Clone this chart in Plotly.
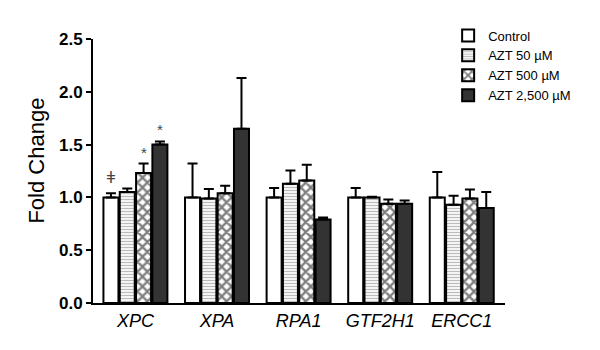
import plotly.graph_objects as go

genes = ["XPC", "XPA", "RPA1", "GTF2H1", "ERCC1"]
series_names = ["Control", "AZT 50 µM", "AZT 500 µM", "AZT 2,500 µM"]

control = [1.00, 1.00, 1.00, 1.00, 1.00]
azt50 = [1.05, 0.99, 1.13, 1.00, 0.93]
azt500 = [1.23, 1.04, 1.16, 0.94, 0.99]
azt2500 = [1.50, 1.65, 0.79, 0.94, 0.90]

control_err = [0.04, 0.32, 0.09, 0.09, 0.24]
azt50_err = [0.035, 0.09, 0.125, 0.005, 0.085]
azt500_err = [0.09, 0.07, 0.15, 0.04, 0.085]
azt2500_err = [0.03, 0.48, 0.02, 0.03, 0.15]

# significance marks: (gene, series index, symbol)
marks = [("XPC", 0, "ǂ"), ("XPC", 2, "*"), ("XPC", 3, "*")]

values = [control, azt50, azt500, azt2500]
errors = [control_err, azt50_err, azt500_err, azt2500_err]
fills = ["white", "white", "white", "#333333"]
patterns = [
    dict(shape=""),
    dict(shape="-", fgcolor="#777777", bgcolor="white", size=3, solidity=0.45),
    dict(shape="x", fgcolor="black", bgcolor="white", size=7, solidity=0.55),
    dict(shape=""),
]

FONT = "Arial, Liberation Sans, Helvetica, sans-serif"

fig = go.Figure()
for name, vals, errs, fill, pat in zip(series_names, values, errors, fills, patterns):
    fig.add_trace(go.Bar(
        x=genes, y=vals, name=name,
        marker=dict(color=fill, line=dict(color="black", width=2), pattern=pat),
        error_y=dict(type="data", array=errs, arrayminus=[0] * len(errs),
                     symmetric=False, color="black", thickness=2, width=5),
    ))

n = len(series_names)
group_w = 0.8
bw = group_w / n
for gene, si, sym in marks:
    gi = genes.index(gene)
    xpos = gi - group_w / 2 + bw * (si + 0.5)
    ytop = values[si][gi] + errors[si][gi]
    fig.add_annotation(x=xpos, y=ytop, xref="x", yref="y", text=sym,
                       showarrow=False, yanchor="bottom", yshift=1 if sym == "*" else 4,
                       font=dict(family=FONT, size=15 if sym == "*" else 17,
                                 color="#444444"))

# y-axis title placed as an annotation
fig.add_annotation(x=-0.138, y=0.54, xref="paper", yref="paper", text="Fold Change",
                   textangle=-90, showarrow=False, xanchor="center", yanchor="middle",
                   font=dict(family=FONT, size=22, color="black"))

fig.update_layout(
    width=600, height=350,
    margin=dict(l=93, r=95, t=39, b=47),
    paper_bgcolor="white", plot_bgcolor="white",
    barmode="group", bargap=0.2, bargroupgap=0.08,
    showlegend=True,
    legend=dict(x=0.862, y=1.07, xanchor="left", yanchor="top",
                font=dict(family=FONT, size=13, color="black"),
                tracegroupgap=0, itemsizing="constant", bgcolor="rgba(0,0,0,0)"),
    font=dict(family=FONT, color="black"),
)
fig.update_xaxes(
    type="category", range=[-0.52, 4.53],
    showline=True, linecolor="black", linewidth=2, ticks="",
    tickfont=dict(family=FONT, size=18, color="black"),
    tickvals=genes, ticktext=[f"<i>{g}</i>" for g in genes],
    showgrid=False, zeroline=False,
)
fig.update_yaxes(
    range=[0, 2.5], tickvals=[0, 0.5, 1.0, 1.5, 2.0, 2.5],
    ticktext=["<b>0.0</b>", "<b>0.5</b>", "<b>1.0</b>", "<b>1.5</b>", "<b>2.0</b>", "<b>2.5</b>"],
    showline=True, linecolor="black", linewidth=2, ticks="outside", ticklen=5,
    tickwidth=2, tickcolor="black",
    tickfont=dict(family=FONT, size=17, color="black"),
    showgrid=False, zeroline=False,
)

fig.write_html("out.html")
